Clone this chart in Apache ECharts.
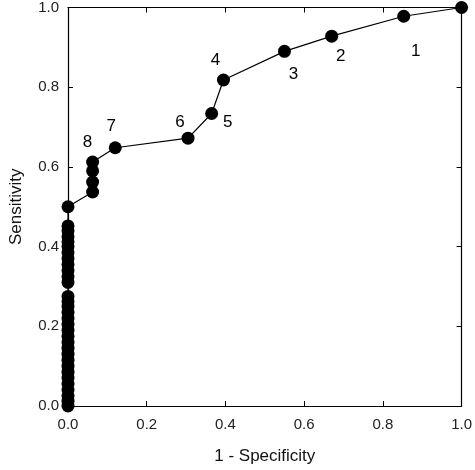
<!DOCTYPE html>
<html><head><meta charset="utf-8">
<script src="https://cdn.jsdelivr.net/npm/echarts@6/dist/echarts.min.js"></script>
<style>html,body{margin:0;padding:0;background:#fff}#c{width:475px;height:470px}</style>
</head><body><div id="c"></div>
<script>
// ROC curve points (1 - specificity, sensitivity)
const fpr = [0,0,0,0,0,0,0,0,0,0,0,0,0,0,0,0,0,0,0,0,0,0,0,0,0,0,0,0,0,0,0,0,
  0.0625,0.0625,0.0625,0.0625,0.12,0.305,0.365,0.395,0.55,0.67,0.853,1.0];
const tpr = [0,0.012,0.025,0.04,0.055,0.07,0.085,0.1,0.115,0.13,0.145,0.16,0.175,0.19,0.205,0.22,0.235,0.25,0.262,0.275,0.31,0.325,0.34,0.355,0.37,0.385,0.4,0.412,0.425,0.44,0.452,0.5,
  0.537,0.562,0.59,0.612,0.648,0.672,0.734,0.818,0.89,0.928,0.978,1.0];
// point labels: index into the arrays above -> text
const labelIdx = [42,41,40,39,38,37,36,35];
const labelTxt = ['1','2','3','4','5','6','7','8'];
const labelOffsets = [[12,35],[9,20],[9,23],[-8,-20],[16,9],[-8,-16],[-4,-21],[-5,-20]];
const xTicks = [0,0.2,0.4,0.6,0.8,1.0];
const yTicks = [0,0.2,0.4,0.6,0.8,1.0];

const font = 'Liberation Sans, Arial, sans-serif';
const data = fpr.map((x,i)=>{
  const item = {value:[x,tpr[i]]};
  const k = labelIdx.indexOf(i);
  if(k>=0){
    item.label = {show:true, formatter:labelTxt[k], position:'inside', offset:labelOffsets[k],
      color:'#000', fontSize:17, fontFamily:font};
  }
  return item;
});

function axisCommon(extra){
  return Object.assign({type:'value',min:0,max:1,interval:0.2,
    axisLine:{show:true,onZero:false,lineStyle:{color:'#000',width:1.2}},
    axisTick:{show:true,inside:true,length:5,lineStyle:{color:'#000',width:1}},
    splitLine:{show:false}}, extra);
}
const chart = echarts.init(document.getElementById('c'));
chart.setOption({
  animation:false,
  grid:{left:62,right:13,top:6,bottom:62,containLabel:false},
  xAxis:[axisCommon({position:'bottom',
    name:'1 - Specificity',nameLocation:'middle',nameGap:42,
    nameTextStyle:{fontSize:17,color:'#111',fontFamily:font},
    axisLabel:{fontSize:15,color:'#222',fontFamily:font,margin:11,
      formatter:v=>(xTicks.find(t=>Math.abs(t-v)<1e-9)??v).toFixed(1)}}),
   axisCommon({position:'top',axisLabel:{show:false}})],
  yAxis:[axisCommon({position:'left',
    name:'Sensitivity',nameLocation:'middle',nameGap:43,nameRotate:90,
    nameTextStyle:{fontSize:17,color:'#111',fontFamily:font},
    axisLabel:{fontSize:15,color:'#222',fontFamily:font,margin:9,
      formatter:v=>(yTicks.find(t=>Math.abs(t-v)<1e-9)??v).toFixed(1)}}),
   axisCommon({position:'right',axisLabel:{show:false}})],
  series:[{type:'line',data:data,clip:false,symbol:'circle',symbolSize:13,
    itemStyle:{color:'#000'},lineStyle:{color:'#000',width:1.2},z:3}]
});
</script></body></html>
